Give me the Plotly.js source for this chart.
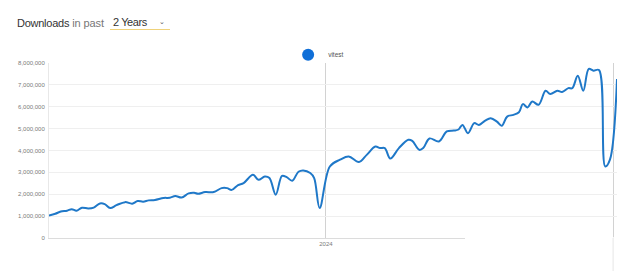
<!DOCTYPE html>
<html>
<head>
<meta charset="utf-8">
<script src="https://cdn.plot.ly/plotly-3.0.1.min.js"></script>
<style>
  html, body { margin:0; padding:0; background:#fff; }
  #wrap { position:relative; width:640px; height:271px; overflow:hidden; }
  #chart { position:absolute; left:0; top:0; width:640px; height:271px; }
  #hdr { position:absolute; left:17px; top:17px; font-family:'Liberation Sans', Arial, sans-serif; font-size:11px; line-height:normal; white-space:nowrap; z-index:5; }
  #hdr .d { color:#333; letter-spacing:-0.25px; }
  #hdr .p { color:#777; letter-spacing:-0.1px; }
  #sel { position:absolute; left:93px; top:-1px; width:57px; height:13px; border-bottom:1px solid #efd27a; padding-left:3px; color:#333; letter-spacing:-0.4px; }
  #sel .chev { position:absolute; left:49px; top:2px; font-size:7px; color:#555; }
</style>
</head>
<body>
<div id="wrap">
  <div id="chart"></div>
  <div id="hdr"><span class="d">Downloads</span> <span class="p">in past</span>
    <div id="sel">2 Years<span class="chev">&#8964;</span></div>
  </div>
</div>
<script>
// Weekly downloads of "vitest"
const seriesName = 'vitest';
const dates = [
  '2023-01-13','2023-01-21','2023-01-28','2023-02-05','2023-02-11','2023-02-17','2023-02-24',
  '2023-03-04','2023-03-11','2023-03-19','2023-03-25','2023-04-01','2023-04-09','2023-04-20',
  '2023-04-29','2023-05-06','2023-05-13','2023-05-20','2023-05-28','2023-06-08','2023-06-16',
  '2023-06-23','2023-07-01','2023-07-10','2023-07-17','2023-07-22','2023-07-31','2023-08-11',
  '2023-08-21','2023-08-28','2023-09-03','2023-09-11','2023-09-18','2023-09-30','2023-10-07',
  '2023-10-15','2023-10-21','2023-10-29','2023-11-06','2023-11-12','2023-11-19','2023-11-27',
  '2023-12-03','2023-12-12','2023-12-17','2023-12-24','2024-01-06','2024-01-19','2024-01-30',
  '2024-02-12','2024-02-22','2024-03-04','2024-03-10','2024-03-16','2024-03-23','2024-04-03',
  '2024-04-15','2024-04-20','2024-04-29','2024-05-04','2024-05-12','2024-05-24','2024-06-03',
  '2024-06-12','2024-06-18','2024-06-23','2024-06-30','2024-07-08','2024-07-14','2024-07-22',
  '2024-07-29','2024-08-06','2024-08-12','2024-08-19','2024-08-27','2024-09-03','2024-09-08',
  '2024-09-14','2024-09-20','2024-09-28','2024-10-07','2024-10-13','2024-10-22','2024-10-28',
  '2024-11-05','2024-11-10','2024-11-17','2024-11-24','2024-12-01','2024-12-07','2024-12-14',
  '2024-12-22','2024-12-28','2025-01-06'
];
const downloads = [
  1030000,1110000,1210000,1250000,1320000,1250000,1380000,
  1350000,1390000,1580000,1550000,1370000,1500000,1640000,
  1570000,1690000,1660000,1720000,1740000,1830000,1840000,
  1920000,1850000,2040000,2070000,2020000,2100000,2100000,
  2280000,2280000,2200000,2420000,2510000,2890000,2660000,
  2810000,2740000,1980000,2840000,2780000,2620000,3030000,
  3090000,2970000,2740000,1370000,3270000,3580000,3730000,
  3470000,3800000,4180000,4110000,4110000,3630000,4110000,
  4490000,4440000,4030000,4110000,4550000,4410000,4870000,
  4910000,4960000,5170000,4790000,5250000,5170000,5370000,
  5480000,5320000,5130000,5550000,5630000,5750000,6120000,
  5970000,6240000,6090000,6730000,6580000,6730000,6670000,
  6850000,6850000,7420000,6730000,7730000,7650000,7680000,
  3270000,3580000,7270000
];
const xTickVals = ['2024-01-01','2025-01-01'];
const xTickText = ['2024',''];
const yTickVals = [0,1000000,2000000,3000000,4000000,5000000,6000000,7000000,8000000];
const xRange = ['2023-01-13','2025-01-06'];
const yRange = [0, 8000000];

const lineColor = '#1f78c8';
const tickFont = { family:'Liberation Sans, Arial, sans-serif', size:6, color:'#7a7a7a' };

const traces = [
  { x: dates, y: downloads, type:'scatter', mode:'lines', name: seriesName, showlegend:false,
    line:{ color: lineColor, width:2, shape:'spline', smoothing:1 }, hoverinfo:'none' },
  { x:[null], y:[null], type:'scatter', mode:'markers', name: seriesName, showlegend:true,
    marker:{ color:'#0f6fd8', size:9 } }
];

const layout = {
  width:640, height:271,
  margin:{ l:49, r:23, t:63, b:33, pad:0 },
  paper_bgcolor:'#ffffff', plot_bgcolor:'#ffffff',
  font:{ family:'Liberation Sans, Arial, sans-serif' },
  showlegend:true,
  legend:{ orientation:'h', x:0.421, xanchor:'left', y:1.047, yanchor:'middle',
    font:{ family:'Liberation Sans, Arial, sans-serif', size:6.5, color:'#555' },
    itemsizing:'constant', bgcolor:'rgba(0,0,0,0)', borderwidth:0 },
  xaxis:{ type:'date', range:xRange, tickvals:xTickVals, ticktext:xTickText,
    showgrid:true, gridcolor:'#d2d2d2', gridwidth:1, showline:true, linecolor:'#dcdcdc', linewidth:1,
    ticks:'', tickfont:tickFont, zeroline:false, fixedrange:true },
  yaxis:{ range:yRange, tickvals:yTickVals, tickformat:',', showgrid:true, gridcolor:'#efefef',
    gridwidth:1, showline:true, linecolor:'#e8e8e8', linewidth:1, ticks:'', tickfont:tickFont,
    zeroline:false, fixedrange:true, ticklabelstandoff:2 },
  shapes:[
    { type:'rect', xref:'paper', yref:'paper', x0:0.7324, x1:1.06, y0:0.004, y1:-0.3,
      fillcolor:'#ffffff', line:{ width:0 }, layer:'above' },
    { type:'line', xref:'x', yref:'paper', x0:'2025-01-01', x1:'2025-01-01', y0:0, y1:-0.25,
      line:{ color:'#e6e6e6', width:1 }, layer:'above' }
  ]
};

Plotly.newPlot('chart', traces, layout, { staticPlot:true, displayModeBar:false });
</script>
</body>
</html>
